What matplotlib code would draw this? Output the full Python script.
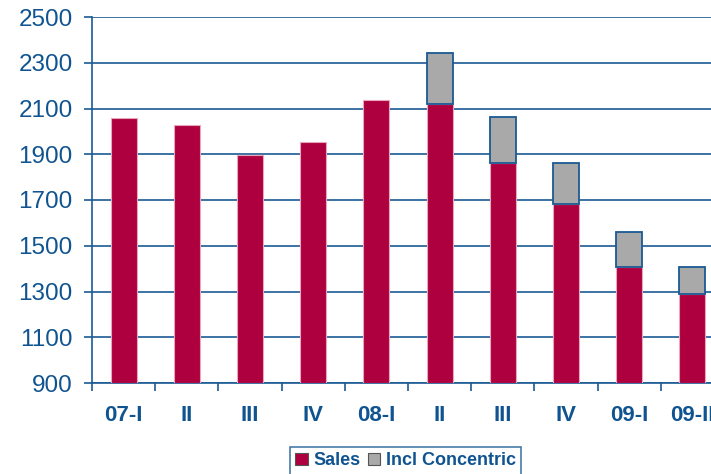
import matplotlib
matplotlib.use("Agg")
import matplotlib.pyplot as plt
from matplotlib.ticker import FixedLocator
import numpy as np

categories = ["07-I", "II", "III", "IV", "08-I", "II", "III", "IV", "09-I", "09-II"]
sales = [2060, 2030, 1895, 1955, 2135, 2120, 1863, 1681, 1407, 1288]
incl_total = [None, None, None, None, None, 2343, 2065, 1862, 1560, 1408]
yticks = [900, 1100, 1300, 1500, 1700, 1900, 2100, 2300, 2500]

RED = "#AE003E"
GRAY = "#A9A9A9"
BLUE = "#1A5A93"
TXT = "#0F5490"

plt.rcParams["font.family"] = ["Liberation Sans", "DejaVu Sans"]

fig = plt.figure(figsize=(7.11, 4.74), dpi=100)
ax = fig.add_axes([92/711, 91/474, 632/711, 366/474])

x = np.arange(len(categories))
bottom = 900
ax.bar(x, np.array(sales) - bottom, bottom=bottom, width=0.41, color=RED,
       edgecolor="#E9A7BE", linewidth=0.8, zorder=3, label="Sales")
conc_x = [i for i, t in enumerate(incl_total) if t is not None]
conc_h = [incl_total[i] - sales[i] for i in conc_x]
conc_b = [sales[i] for i in conc_x]
ax.bar(conc_x, conc_h, bottom=conc_b, width=0.41, color=GRAY,
       edgecolor=BLUE, linewidth=1.3, zorder=3, label="Incl Concentric")

ax.set_xlim(-0.5, len(categories) - 0.5)
ax.set_ylim(900, 2500)
ax.set_yticks(yticks)
ax.set_yticklabels([str(v) for v in yticks], fontsize=17.5, color=TXT)
ax.yaxis.grid(True, color=BLUE, linewidth=1.2, zorder=1)
ax.set_axisbelow(True)

ax.set_xticks(x)
ax.set_xticklabels(categories, fontsize=16, fontweight="bold", color=TXT)
ax.tick_params(axis="x", which="major", length=0, pad=16)
ax.xaxis.set_minor_locator(FixedLocator(np.arange(-0.5, len(categories), 1.0)))
ax.tick_params(axis="x", which="minor", length=6, width=1.2, color=BLUE, direction="out")
ax.tick_params(axis="y", length=6, width=1.2, color=BLUE, pad=8)

for s in ["top", "right"]:
    ax.spines[s].set_visible(False)
for s in ["left", "bottom"]:
    ax.spines[s].set_color(BLUE)
    ax.spines[s].set_linewidth(1.2)

leg = fig.legend(loc="upper left", bbox_to_anchor=(290/711, 27/474),
                 bbox_transform=fig.transFigure, ncol=2, frameon=True,
                 fancybox=False, edgecolor=BLUE, handlelength=0.7,
                 handleheight=0.7, handletextpad=0.3, columnspacing=0.4,
                 borderpad=0.3, borderaxespad=0.0,
                 prop={"size": 13, "weight": "bold"})
leg.get_frame().set_linewidth(1.2)
for t in leg.get_texts():
    t.set_color(TXT)
for h in leg.legend_handles:
    h.set_linewidth(0.8)
    h.set_edgecolor("#555555")

fig.savefig("out.png", dpi=100)
